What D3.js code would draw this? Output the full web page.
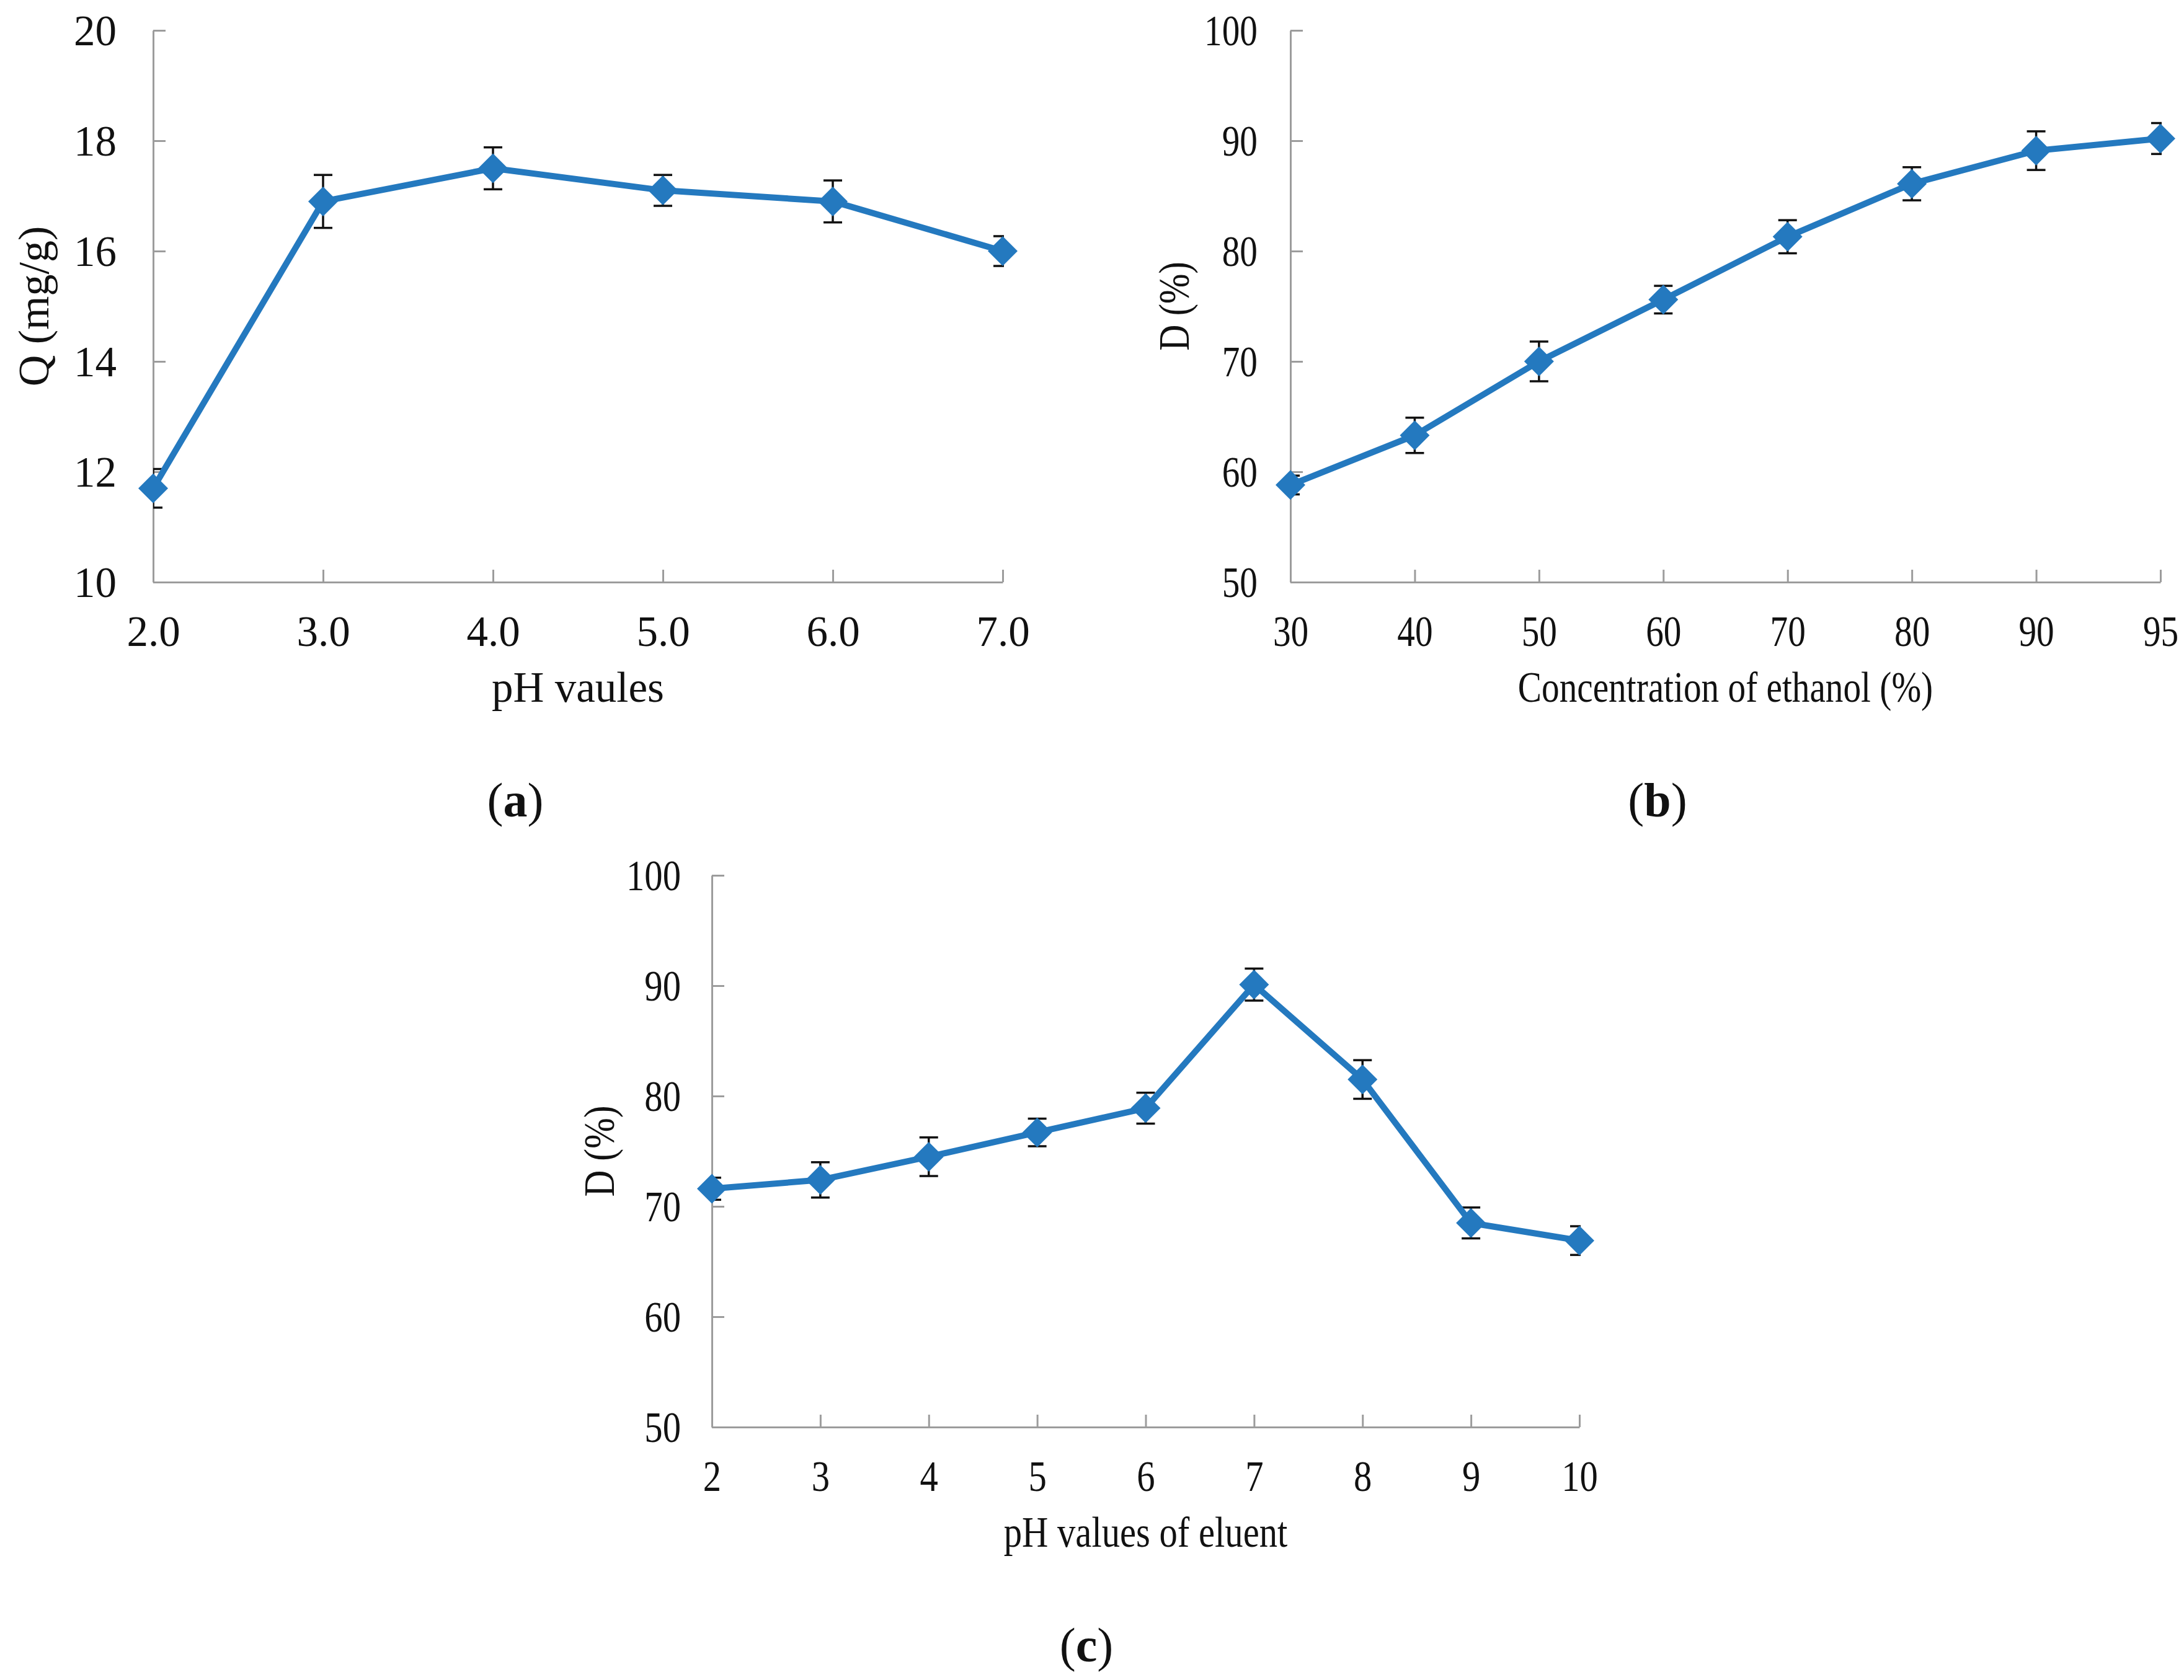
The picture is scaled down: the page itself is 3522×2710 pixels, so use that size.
<!DOCTYPE html>
<html>
<head>
<meta charset="utf-8">
<script src="https://cdn.jsdelivr.net/npm/d3@7"></script>
<style>
  body { margin: 0; background: #fff; }
  text { font-family: "Liberation Serif", "Times New Roman", serif; fill: #111; }
</style>
</head>
<body>
<svg id="fig" width="3522" height="2710"></svg>
<script>
// ---- data ----
const phA = ["2.0", "3.0", "4.0", "5.0", "6.0", "7.0"];
const qA = [11.7, 16.9, 17.5, 17.1, 16.9, 16.0];
const errA = [0.35, 0.48, 0.38, 0.28, 0.38, 0.27];
const yTicksA = [10, 12, 14, 16, 18, 20];

const ethanolB = ["30", "40", "50", "60", "70", "80", "90", "95"];
const dB = [58.8, 63.3, 70.0, 75.6, 81.3, 86.1, 89.1, 90.2];
const errB = [0.85, 1.6, 1.8, 1.25, 1.5, 1.5, 1.75, 1.4];
const yTicksB = [50, 60, 70, 80, 90, 100];

const phC = ["2", "3", "4", "5", "6", "7", "8", "9", "10"];
const dC = [71.6, 72.4, 74.5, 76.7, 78.9, 90.1, 81.5, 68.5, 66.9];
const errC = [1.0, 1.6, 1.75, 1.25, 1.4, 1.45, 1.75, 1.4, 1.3];
const yTicksC = [50, 60, 70, 80, 90, 100];

const blue = "#2479bf";
const axisGrey = "#9c9c9c";
const svg = d3.select("#fig");

function panel(opt) {
    // plot area
    let g = svg.append("g").attr("transform", `translate(${opt.left},${opt.top})`);
    let w = opt.width, h = opt.height;

    let x = d3.scalePoint().domain(opt.cats).range([0, w]).padding(0);
    let y = d3.scaleLinear().domain(opt.yDomain).range([h, 0]);

    let rows = opt.cats.map((c, i) => ({cat: c, v: opt.values[i], e: opt.errs[i]}));

    // axes, ticks pointing inward
    let yAxis = g.append("g")
        .call(d3.axisLeft(y).tickValues(opt.yTicks).tickSizeInner(-20).tickSizeOuter(0).tickPadding(0));
    let xAxis = g.append("g")
        .attr("transform", `translate(0,${h})`)
        .call(d3.axisBottom(x).tickSizeInner(-20).tickSizeOuter(0).tickPadding(0));

    [xAxis, yAxis].forEach(a => {
        a.select(".domain").attr("stroke", axisGrey).attr("stroke-width", 3);
        a.selectAll(".tick line").attr("stroke", axisGrey).attr("stroke-width", 3);
        a.selectAll(".tick text").attr("font-size", 69).attr("fill", "#111")
            .attr("font-family", '"Liberation Serif", serif');
    });
    yAxis.selectAll(".tick text")
        .attr("x", null).attr("dy", "0.34em").attr("text-anchor", "end")
        .attr("transform", `translate(${-opt.yLabelGap},0) scale(${opt.sx},1)`);
    xAxis.selectAll(".tick text")
        .attr("y", null).attr("dy", null)
        .attr("transform", `translate(0,103) scale(${opt.sx},1)`);

    // clip error bars to plot area
    let clipId = "clip-" + opt.name;
    g.append("clipPath").attr("id", clipId)
        .append("rect").attr("x", 0).attr("y", -60).attr("width", w + 2).attr("height", h + 60);

    let eb = g.append("g").attr("clip-path", `url(#${clipId})`)
        .attr("stroke", "#111").attr("stroke-width", 3.5).attr("fill", "none");
    let capHalf = 15;
    rows.forEach(d => {
        let cx = x(d.cat);
        eb.append("line").attr("x1", cx).attr("x2", cx)
            .attr("y1", y(d.v + d.e)).attr("y2", y(d.v - d.e));
        eb.append("line").attr("x1", cx - capHalf).attr("x2", cx + capHalf)
            .attr("y1", y(d.v + d.e)).attr("y2", y(d.v + d.e));
        eb.append("line").attr("x1", cx - capHalf).attr("x2", cx + capHalf)
            .attr("y1", y(d.v - d.e)).attr("y2", y(d.v - d.e));
    });

    // line
    g.append("path")
        .datum(rows)
        .attr("fill", "none")
        .attr("stroke", blue)
        .attr("stroke-width", 10)
        .attr("stroke-linejoin", "round")
        .attr("d", d3.line().x(d => x(d.cat)).y(d => y(d.v)));

    // diamond markers
    let r = 24;
    g.selectAll(".marker")
        .data(rows)
        .enter().append("path")
        .attr("class", "marker")
        .attr("fill", blue)
        .attr("d", d => {
            let cx = x(d.cat), cy = y(d.v);
            return `M${cx},${cy - r}L${cx + r},${cy}L${cx},${cy + r}L${cx - r},${cy}Z`;
        });

    // axis titles
    g.append("text")
        .attr("text-anchor", "middle")
        .attr("font-size", 69)
        .attr("transform", `translate(${w / 2},${h + 193}) scale(${opt.sx},1)`)
        .text(opt.xTitle);
    g.append("text")
        .attr("text-anchor", "middle")
        .attr("font-size", 70)
        .attr("transform", `translate(${-opt.yTitleGap},${h / 2}) rotate(-90) scale(${opt.sx},1)`)
        .text(opt.yTitle);

    // panel letter
    let lab = svg.append("text")
        .attr("x", opt.labelX).attr("y", opt.labelY)
        .attr("text-anchor", "middle")
        .attr("font-size", 78);
    lab.append("tspan").text("(");
    lab.append("tspan").attr("font-weight", "bold").text(opt.letter);
    lab.append("tspan").text(")");
}

panel({
    name: "a", left: 247, top: 49, width: 1370, height: 890,
    cats: phA, values: qA, errs: errA, yDomain: [10, 20], yTicks: yTicksA,
    xTitle: "pH vaules", yTitle: "Q (mg/g)", sx: 1.0,
    yLabelGap: 59, yTitleGap: 169, letter: "a", labelX: 831, labelY: 1317
});

panel({
    name: "b", left: 2081, top: 49, width: 1403, height: 890,
    cats: ethanolB, values: dB, errs: errB, yDomain: [50, 100], yTicks: yTicksB,
    xTitle: "Concentration of ethanol (%)", yTitle: "D (%)", sx: 0.83,
    yLabelGap: 53, yTitleGap: 164, letter: "b", labelX: 2673, labelY: 1317
});

panel({
    name: "c", left: 1148, top: 1412, width: 1399, height: 890,
    cats: phC, values: dC, errs: errC, yDomain: [50, 100], yTicks: yTicksC,
    xTitle: "pH values of eluent", yTitle: "D (%)", sx: 0.85,
    yLabelGap: 50, yTitleGap: 158, letter: "c", labelX: 1752, labelY: 2680
});
</script>
</body>
</html>
